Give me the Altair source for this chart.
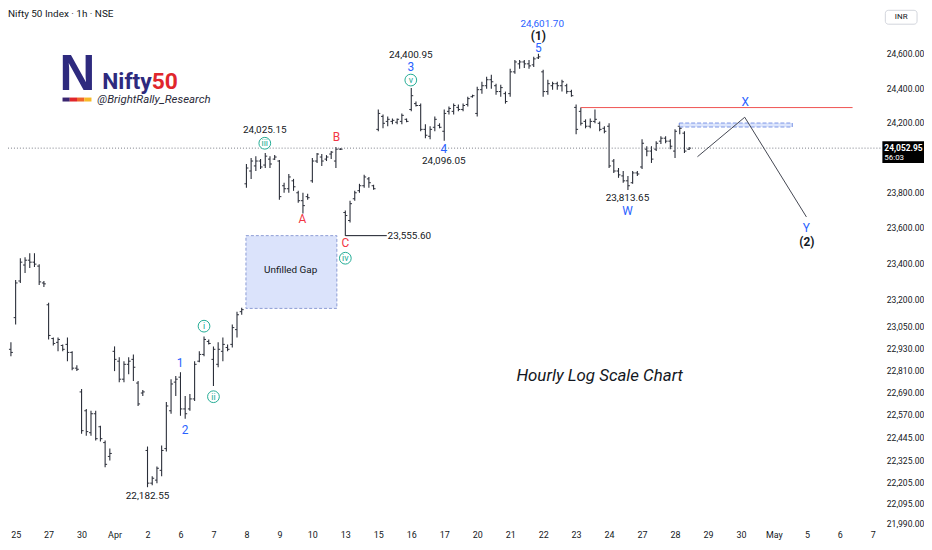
import json
import altair as alt
import pandas as pd

# ---------------- data ----------------
bar_index = list(range(-1, 144))
opens = [22925, 23099,23302,23391,23418,23407,23385,23291, 23170,22984,22963,22946,22952,22908,22822,
         22693,22591,22473,22575,22505,22420,22346, 22914,22860,22762,22843,22870,22741,22687,
         22378,22204,22220,22272,22388,22591,22746, 22773,22601,22601,22655,22860,22897,22968,
         22870,22843,22914,22935,22952,23033,23132, 23849,23922,23951,23979,23956,23990,23990,
         23979,23838,23821,23866,23798,23753,23776, 23866,23979,24002,23990,24019,23979,24047,
         23686,23641,23764,23810,23838,23877,23838, 24161,24236,24207,24207,24202,24207,24219,
         24276,24310,24299,24161,24121,24173,24184, 24150,24265,24265,24288,24276,24305,24350,
         24253,24391,24414,24449,24414,24380,24368, 24368,24495,24542,24553,24542,24536,24577,
         24495,24380,24414,24426,24414,24414,24380, 24288,24265,24207,24179,24207,24196,24167,
         24179,23979,23922,23894,23866,23855,23911, 23945,24047,24036,24047,24093,24110,24093,
         24036,24179,24139,24047]
highs = [22963, 23308,23429,23435,23457,23457,23396,23302, 23181,22990,22990,22952,22990,22914,22838,
         22709,22601,22591,22591,22511,22431,22388, 22941,22881,22860,22881,22897,22752,22703,
         22399,22241,22293,22404,22639,22762,22779, 22800,22671,22682,22860,22914,22995,22979,
         22941,22963,22990,22952,23061,23132,23154, 23962,23996,24007,23990,24025.15,24007,24013,
         23985,23855,23905,23877,23809,23798,23793, 23996,24025,24019,24013,24036,24059,24053,
         23697,23753,23810,23849,23900,23888,23843, 24276,24247,24236,24224,24224,24253,24224,
         24400.95,24322,24310,24190,24179,24236,24196, 24276,24293,24310,24305,24310,24350,24362,
         24408,24437,24466,24478,24426,24420,24380, 24513,24565,24565,24565,24565,24583,24601.7,
         24507,24449,24437,24437,24449,24426,24391, 24305,24287,24219,24224,24276,24207,24179,
         24196,23990,23939,23922,23894,23922,23922, 24104,24064,24064,24093,24121,24121,24104,
         24161,24196,24150,24059]
lows = [22887, 23061,23291,23347,23374,23380,23280,23269, 22979,22946,22914,22914,22860,22811,22806,
        22468,22457,22457,22431,22426,22288,22325, 22806,22746,22746,22789,22752,22617,22671,
        22182.55,22193,22204,22241,22373,22575,22671, 22564,22548,22591,22644,22854,22887,22952,
        22725,22827,22860,22914,22935,22990,23115, 23827,23877,23922,23934,23939,23939,23985,
        23759,23798,23798,23809,23742,23680,23759, 23855,23968,23951,23979,23990,23939,24042,
        23555.6,23630,23753,23798,23827,23827,23815, 24150,24167,24179,24190,24190,24190,24202,
        24265,24293,24150,24110,24104,24150,24167, 24096.05,24247,24247,24265,24265,24293,24345,
        24236,24368,24397,24397,24362,24350,24310, 24350,24484,24513,24518,24513,24524,24571,
        24350,24362,24391,24391,24380,24368,24350, 24133,24184,24167,24167,24196,24150,24139,
        23939,23911,23883,23855,23813.65,23849,23894, 23934,24007,23968,24036,24076,24081,24047,
        23996,24133,24025,24042]
closes = [22908, 23291,23407,23418,23407,23396,23297,23286, 23001,22957,22979,22925,22908,22822,22816,
          22484,22479,22575,22441,22441,22304,22362, 22870,22762,22843,22860,22827,22628,22693,
          22204,22230,22283,22378,22617,22736,22762, 22601,22575,22655,22843,22897,22979,22957,
          22925,22925,22952,22925,23044,23115,23143, 23939,23979,23979,23945,24007,23962,24002,
          23776,23821,23888,23832,23753,23725,23770, 23979,24019,23979,24002,24030,24047,24047,
          23669,23736,23798,23838,23888,23855,23821, 24253,24196,24219,24213,24219,24242,24207,
          24356,24299,24161,24127,24161,24219,24173, 24253,24282,24299,24276,24299,24339,24356,
          24391,24414,24449,24437,24380,24403,24322, 24495,24553,24553,24542,24530,24571,24583,
          24380,24426,24426,24414,24437,24380,24356, 24161,24196,24179,24207,24219,24161,24150,
          23951,23922,23900,23866,23838,23911,23905, 24081,24036,23990,24081,24110,24093,24064,
          24150,24167,24036,24052.95]

day_labels = ["25", "27", "30", "Apr", "2", "6", "7", "8", "9", "10", "13", "15", "16", "17",
              "20", "21", "22", "23", "24", "27", "28", "29", "30", "May", "5", "6", "7"]
bars_per_day = 7
price_ticks = [24600, 24400, 24200, 23800, 23600, 23400, 23200, 23050, 22930, 22810,
               22690, 22570, 22445, 22325, 22205, 22095, 21990]
last_price = 24052.95

# annotation texts
price_texts = ["24,025.15", "23,555.60", "24,400.95", "24,096.05", "23,813.65", "22,182.55", "Unfilled Gap"]
price_tx = [52.9, 83.6, 83.9, 90.9, 129.9, 28.0, 58.4]
price_ty = [24156, 23556, 24594, 23979, 23766, 22135, 23363]

wave_texts = ["A", "B", "C", "3", "4", "5", "W", "X", "Y", "1", "2"]
wave_colors = ["#f23645", "#f23645", "#f23645", "#2962ff", "#2962ff", "#2962ff",
               "#2962ff", "#2962ff", "#2962ff", "#2962ff", "#2962ff"]
wave_tx = [60.9, 68.1, 70.0, 83.9, 90.9, 111.0, 129.9, 154.9, 167.9, 34.9, 36.0]
wave_ty = [23647, 24116, 23513, 24524, 24047, 24633, 23697, 24322, 23596, 22851, 22489]

degree_texts = ["(1)", "(2)"]
degree_tx = [111.0, 168.0]
degree_ty = [24706, 23517]

top_text = ["24,601.70"]
top_tx = [111.8]
top_ty = [24778]

circ_texts = ["iii", "iv", "v", "i", "ii"]
circ_tx = [52.9, 70.0, 83.9, 40.0, 42.0]
circ_ty = [24081, 23429, 24447, 23052, 22667]

# projection path W-X-Y
proj_x = [144.76, 154.8, 167.9]
proj_y = [24003.6, 24231, 23661]

# zones
gap_x = [48.9, 68.2]
gap_y = [23150, 23555.6]
box_x = [140.9, 164.9]
box_y = [24174.6, 24197.5]
red_x = [120, 177.7]
red_y = 24287
c_line_x = [70, 78.8]
c_line_y = 23555.6

# ---------------- chart ----------------
BAR = "#2a2e39"
BLACK = "#131722"
TEAL = "#22ab94"
FONT = "Roboto"

W, H = 880, 520
xs = alt.Scale(domain=[-1.62, 183.6], nice=False, zero=False)
ys = alt.Scale(type="log", domain=[21979, 24857.6], nice=False)

df = pd.DataFrame({"i": bar_index, "o": opens, "h": highs, "l": lows, "c": closes})

x_axis = alt.Axis(values=list(range(0, 183, bars_per_day)),
                  labelExpr=f"{json.dumps(day_labels)}[round(datum.value / {bars_per_day})]",
                  domain=False, ticks=False, grid=False, labelFontSize=9, labelColor=BLACK,
                  labelPadding=5, labelOverlap=False, labelFlush=False, labelFont=FONT, title=None)
y_axis = alt.Axis(orient="right", values=price_ticks, format=",.2f", domain=False, ticks=False,
                  grid=False, labelFontSize=8.6, labelColor=BLACK, labelPadding=6,
                  labelOverlap=False, labelFlush=False, labelFont=FONT, title=None)


def X(f):
    return alt.X(f, type="quantitative", scale=xs, axis=x_axis, title=None)


def Y(f):
    return alt.Y(f, type="quantitative", scale=ys, axis=y_axis, title=None)


hl = alt.Chart(df).mark_rule(color=BAR, strokeWidth=1.1).encode(x=X("i"), y=Y("l"), y2="h:Q")
open_t = alt.Chart(df).transform_calculate(io="datum.i - 0.42").mark_rule(
    color=BAR, strokeWidth=1).encode(x=X("io"), x2="i:Q", y=Y("o"))
close_t = alt.Chart(df).transform_calculate(ic="datum.i + 0.42").mark_rule(
    color=BAR, strokeWidth=1).encode(x=X("i"), x2="ic:Q", y=Y("c"))

gap = alt.Chart(pd.DataFrame({"x0": [gap_x[0]], "x1": [gap_x[1]], "y0": [gap_y[0]], "y1": [gap_y[1]]})).mark_rect(
    fill="#dbe3fb", stroke="#8c9bd4", strokeDash=[3, 2], strokeWidth=1
).encode(x=X("x0"), x2="x1:Q", y=Y("y0"), y2="y1:Q")

box = alt.Chart(pd.DataFrame({"x0": [box_x[0]], "x1": [box_x[1]], "y0": [box_y[0]], "y1": [box_y[1]]})).mark_rect(
    fill="#dce5fc", stroke="#7b95e6", strokeDash=[4, 2], strokeWidth=1
).encode(x=X("x0"), x2="x1:Q", y=Y("y0"), y2="y1:Q")

dotted = alt.Chart(pd.DataFrame({"p": [last_price]})).mark_rule(
    color="#787b86", strokeDash=[1, 2], strokeWidth=1).encode(y=Y("p"))

red = alt.Chart(pd.DataFrame({"x0": [red_x[0]], "x1": [red_x[1]], "p": [red_y]})).mark_rule(
    color="#ef5350", strokeWidth=1).encode(x=X("x0"), x2="x1:Q", y=Y("p"))

cline = alt.Chart(pd.DataFrame({"x0": [c_line_x[0]], "x1": [c_line_x[1]], "p": [c_line_y]})).mark_rule(
    color=BLACK, strokeWidth=1).encode(x=X("x0"), x2="x1:Q", y=Y("p"))

proj = alt.Chart(pd.DataFrame({"x": proj_x, "y": proj_y})).mark_line(
    color="#434651", strokeWidth=1).encode(x=X("x"), y=Y("y"))

ptext = alt.Chart(pd.DataFrame({"t": price_texts, "x": price_tx, "y": price_ty})).mark_text(
    fontSize=10, color=BLACK, font=FONT).encode(x=X("x"), y=Y("y"), text="t:N")

ttext = alt.Chart(pd.DataFrame({"t": top_text, "x": top_tx, "y": top_ty})).mark_text(
    fontSize=10, color="#2962ff", font=FONT).encode(x=X("x"), y=Y("y"), text="t:N")

wtext = alt.Chart(pd.DataFrame({"t": wave_texts, "x": wave_tx, "y": wave_ty, "c": wave_colors})).mark_text(
    fontSize=12, font=FONT).encode(x=X("x"), y=Y("y"), text="t:N",
                                   color=alt.Color("c:N", scale=None))

dtext = alt.Chart(pd.DataFrame({"t": degree_texts, "x": degree_tx, "y": degree_ty})).mark_text(
    fontSize=12, fontWeight="bold", color=BLACK, font=FONT).encode(x=X("x"), y=Y("y"), text="t:N")

cdf = pd.DataFrame({"t": circ_texts, "x": circ_tx, "y": circ_ty})
circ = alt.Chart(cdf).mark_point(shape="circle", size=140, stroke=TEAL, fill="white",
                                 filled=False, strokeWidth=1, opacity=1).encode(x=X("x"), y=Y("y"))
ctext = alt.Chart(cdf).mark_text(fontSize=9, color=TEAL, font=FONT).encode(x=X("x"), y=Y("y"), text="t:N")

hourly = alt.Chart(pd.DataFrame({"t": ["Hourly Log Scale Chart"], "x": [124.0], "y": [22779]})).mark_text(
    fontSize=17, fontStyle="italic", color=BLACK, font=FONT).encode(x=X("x"), y=Y("y"), text="t:N")

one = pd.DataFrame({"a": [0]})
title = alt.Chart(one).mark_text(text="Nifty 50 Index · 1h · NSE", fontSize=10, color=BLACK,
                                 align="left", baseline="middle", font=FONT).encode(
    x=alt.value(0), y=alt.value(4))
logo_n = alt.Chart(one).mark_text(text="N", fontSize=50, fontWeight="bold", color="#2e2a7e",
                                  align="center", baseline="alphabetic", font="Liberation Sans").encode(
    x=alt.value(70), y=alt.value(80))
logo_nifty = alt.Chart(one).mark_text(text="Nifty", fontSize=23, fontWeight="bold", color="#2e2a7e",
                                      align="right", baseline="alphabetic", font=FONT).encode(
    x=alt.value(145), y=alt.value(79))
logo_50 = alt.Chart(one).mark_text(text="50", fontSize=23, fontWeight="bold", color="#e0262c",
                                   align="left", baseline="alphabetic", font=FONT).encode(
    x=alt.value(145), y=alt.value(79))
logo_handle = alt.Chart(one).mark_text(text="@BrightRally_Research", fontSize=11.5, fontStyle="italic",
                                       color="#2b2b3a", align="left", baseline="middle", font=FONT).encode(
    x=alt.value(90), y=alt.value(91))
bar_cols = ["#3a2570", "#e0262c", "#f0662a", "#f7b928"]
stripes = [
    alt.Chart(one).mark_rule(color=col, strokeWidth=4).encode(
        x=alt.value(55 + 7.3 * k), x2=alt.value(55 + 7.3 * (k + 1)), y=alt.value(90))
    for k, col in enumerate(bar_cols)
]

inr_box = alt.Chart(one).mark_rect(fill="white", stroke="#d1d4dc", cornerRadius=3).encode(
    x=alt.value(885), x2=alt.value(917), y=alt.value(0), y2=alt.value(14))
inr = alt.Chart(one).mark_text(text="INR", fontSize=8, color=BLACK, font=FONT).encode(
    x=alt.value(901), y=alt.value(7))
pbox = alt.Chart(one).mark_rect(fill="#000000").encode(
    x=alt.value(882), x2=alt.value(924), y=alt.value(132), y2=alt.value(154))
ptxt = alt.Chart(one).mark_text(text="24,052.95", fontSize=8.5, fontWeight="bold", color="white",
                                align="left", font=FONT).encode(x=alt.value(884), y=alt.value(139))
ttxt = alt.Chart(one).mark_text(text="56:03", fontSize=8, color="white",
                                align="left", font=FONT).encode(x=alt.value(884), y=alt.value(148.5))

chart = alt.layer(
    hl, gap, box, dotted, red, cline, open_t, close_t, proj,
    ptext, ttext, wtext, dtext, circ, ctext, hourly,
    title, logo_n, logo_nifty, logo_50, logo_handle, *stripes,
    inr_box, inr, pbox, ptxt, ttxt,
).properties(
    width=W, height=H,
    background="white",
    autosize=alt.AutoSizeParams(type="none"),
    padding={"left": 0, "top": 0, "right": 44, "bottom": 14},
).configure_view(stroke=None)

chart.save("out.html", embed_options={"renderer": "svg", "actions": False})
